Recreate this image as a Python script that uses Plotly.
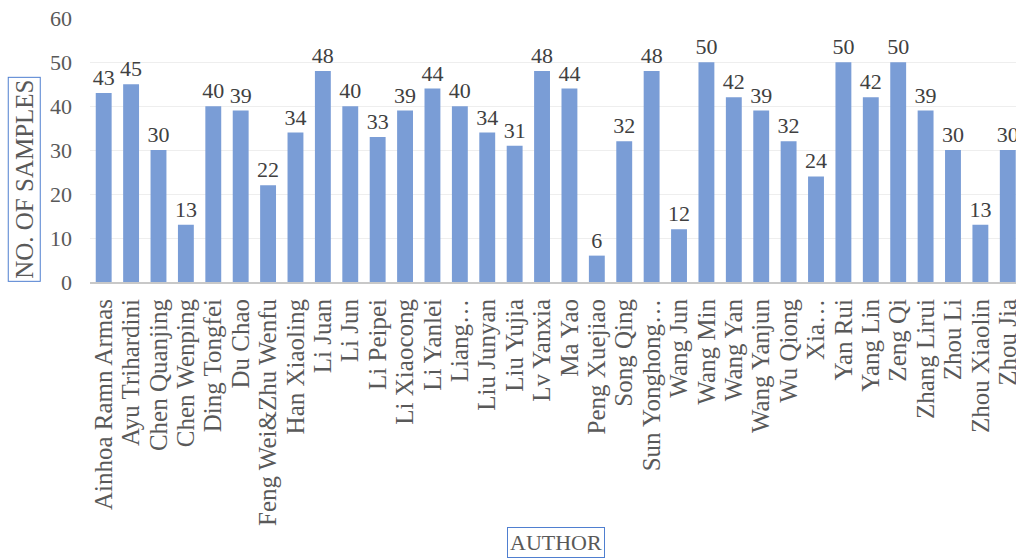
import plotly.graph_objects as go

authors = [
    "Ainhoa Ramn Armas", "Ayu Trihardini", "Chen Quanjing", "Chen Wenping",
    "Ding Tongfei", "Du Chao", "Feng Wei&Zhu Wenfu", "Han Xiaoling", "Li Juan",
    "Li Jun", "Li Peipei", "Li Xiaocong", "Li Yanlei", "Liang…", "Liu Junyan",
    "Liu Yujia", "Lv Yanxia", "Ma Yao", "Peng Xuejiao", "Song Qing",
    "Sun Yonghong…", "Wang Jun", "Wang Min", "Wang Yan", "Wang Yanjun",
    "Wu Qiong", "Xia…", "Yan Rui", "Yang Lin", "Zeng Qi", "Zhang Lirui",
    "Zhou Li", "Zhou Xiaolin", "Zhou Jia",
]
samples = [
    43, 45, 30, 13, 40, 39, 22, 34, 48, 40, 33, 39, 44, 40, 34, 31, 48,
    44, 6, 32, 48, 12, 50, 42, 39, 32, 24, 50, 42, 50, 39, 30, 13, 30,
]
y_ticks = [0, 10, 20, 30, 40, 50, 60]

font_family = "Liberation Serif"
bar_color = "#7a9dd6"
box_color = "#4f7fd0"

fig = go.Figure()

fig.add_trace(
    go.Bar(
        x=list(range(len(authors))),
        y=samples,
        text=samples,
        textposition="outside",
        constraintext="none",
        cliponaxis=False,
        textfont={"family": font_family, "size": 22, "color": "#404040"},
        marker={"color": bar_color, "line": {"width": 0}},
        showlegend=False,
    )
)

fig.update_xaxes(
    tickmode="array",
    tickvals=list(range(len(authors))),
    ticktext=authors,
    tickangle=-90,
    range=[-0.5, 33.3],
    automargin=False,
    showgrid=False,
    showline=True,
    linecolor="#c8c8c8",
    linewidth=2,
    ticks="",
    ticklabelstandoff=5,
    ticklabeloverflow="allow",
    tickfont={"family": font_family, "size": 25, "color": "#595959"},
)
fig.update_yaxes(
    range=[0, 60.05],
    tickvals=y_ticks,
    automargin=False,
    showgrid=True,
    gridcolor="#eeeeee",
    gridwidth=1,
    zeroline=False,
    ticks="",
    ticklabelstandoff=17,
    ticklabeloverflow="allow",
    tickfont={"family": font_family, "size": 22, "color": "#595959"},
)

fig.add_annotation(
    text="NO. OF SAMPLES",
    xref="paper", yref="paper",
    x=-0.0715, y=0.39,
    xanchor="center", yanchor="middle",
    textangle=-90,
    showarrow=False,
    font={"family": font_family, "size": 25, "color": "#595959"},
    bordercolor=box_color,
    borderwidth=1,
    borderpad=2,
)
fig.add_annotation(
    text="AUTHOR",
    xref="paper", yref="paper",
    x=0.503, y=-0.928,
    xanchor="center", yanchor="top",
    showarrow=False,
    font={"family": font_family, "size": 22, "color": "#595959"},
    bordercolor=box_color,
    borderwidth=1,
    borderpad=2,
)

fig.update_layout(
    width=1016,
    height=559,
    bargap=0.42,
    plot_bgcolor="white",
    paper_bgcolor="white",
    margin={"l": 90, "r": 0, "t": 18, "b": 277},
)

# drop the default 8px page margin so the figure fills the window
fig.write_html(
    "out.html",
    config={"displayModeBar": False},
    post_script="document.body.style.margin = '0'; document.body.style.overflow = 'hidden';",
)
